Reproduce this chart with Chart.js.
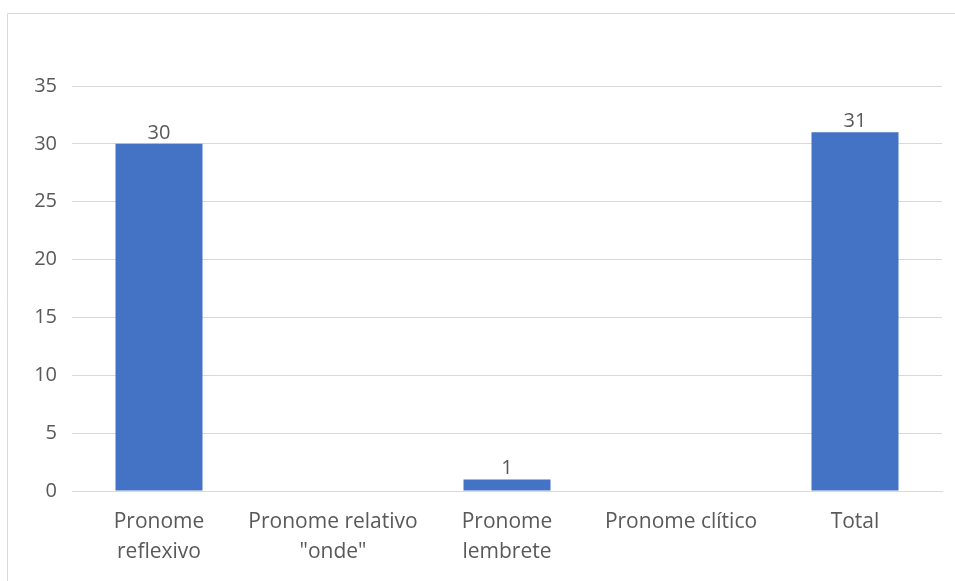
<!DOCTYPE html>
<html>
<head>
<meta charset="utf-8">
<script src="https://cdn.jsdelivr.net/npm/chart.js@4"></script>
<style>
  html, body { margin: 0; padding: 0; background: #fff; }
  #wrap { position: relative; width: 955px; height: 581px; }
</style>
</head>
<body>
<div id="wrap"><canvas id="grafico"></canvas></div>
<script>
// dados do gráfico
const categorias = [
  ['Pronome', 'reflexivo'],
  ['Pronome relativo', '"onde"'],
  ['Pronome', 'lembrete'],
  'Pronome clítico',
  'Total'
];
const valores = [30, null, 1, null, 31];
const ticksY = [0, 5, 10, 15, 20, 25, 30, 35];

const corTexto = '#595959';
const corGrade = '#d9d9d9';
const fonte = '"Open Sans", "Segoe UI", sans-serif';

// moldura do gráfico (estilo Excel: só topo e esquerda visíveis)
const moldura = {
  id: 'moldura',
  beforeDraw(chart) {
    const c = chart.ctx;
    c.save();
    c.strokeStyle = corGrade;
    c.lineWidth = 1;
    c.beginPath();
    c.moveTo(7.5, 600);
    c.lineTo(7.5, 13.5);
    c.lineTo(960, 13.5);
    c.stroke();
    c.restore();
  }
};

// rótulos de valor acima das barras
const rotulosValor = {
  id: 'rotulosValor',
  afterDatasetsDraw(chart) {
    const c = chart.ctx;
    const meta = chart.getDatasetMeta(0);
    c.save();
    c.fillStyle = corTexto;
    c.font = '20px ' + fonte;
    c.textAlign = 'center';
    c.textBaseline = 'bottom';
    meta.data.forEach((bar, i) => {
      const v = valores[i];
      if (v === null || v === undefined) return;
      c.fillText(String(v), bar.x, bar.y - 1);
    });
    c.restore();
  }
};

new Chart(document.getElementById('grafico'), {
  type: 'bar',
  data: {
    labels: categorias,
    datasets: [{
      data: valores,
      backgroundColor: '#4472c4',
      borderWidth: 0,
      categoryPercentage: 1,
      barPercentage: 0.5
    }]
  },
  options: {
    responsive: true,
    maintainAspectRatio: false,
    animation: false,
    events: [],
    layout: { padding: { top: 86, right: 13, left: 0, bottom: 0 } },
    plugins: {
      legend: { display: false },
      tooltip: { enabled: false }
    },
    scales: {
      x: {
        grid: { display: false },
        border: { color: corGrade, width: 1 },
        ticks: {
          color: corTexto,
          font: { family: fonte, size: 21, lineHeight: 1.43 },
          padding: 8,
          maxRotation: 0,
          autoSkip: false
        },
        afterFit(scale) { scale.height = 90; }
      },
      y: {
        min: 0,
        max: 35,
        afterBuildTicks(scale) { scale.ticks = ticksY.map(v => ({ value: v })); },
        grid: { color: corGrade, lineWidth: 1, drawTicks: false },
        border: { display: false },
        ticks: {
          color: corTexto,
          font: { family: fonte, size: 20 },
          padding: 15
        },
        afterFit(scale) { scale.width = 72; }
      }
    }
  },
  plugins: [moldura, rotulosValor]
});
</script>
</body>
</html>
